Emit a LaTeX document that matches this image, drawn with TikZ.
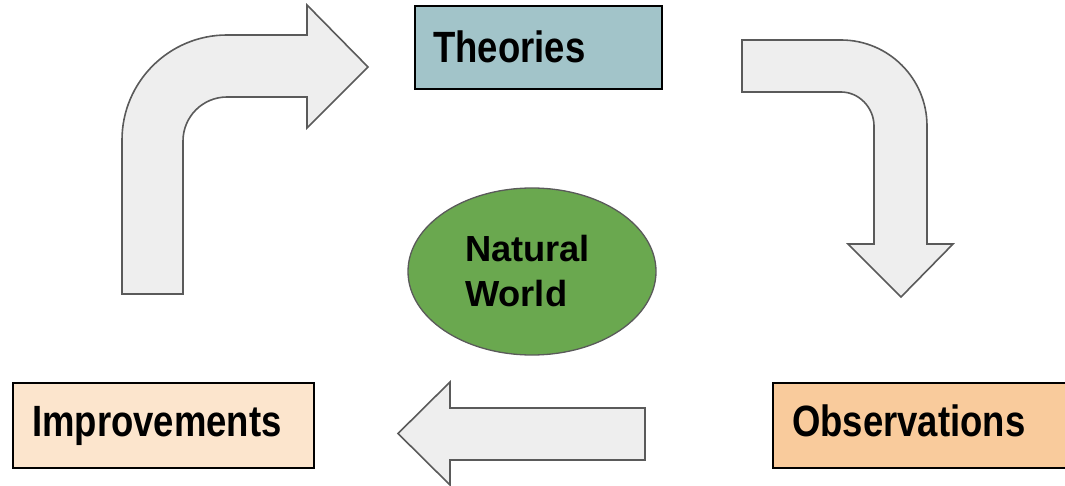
\documentclass[tikz,border=0pt]{standalone}
\usepackage{fontspec}
\setmainfont{Liberation Sans}
\usetikzlibrary{shapes.geometric,calc}
\definecolor{theoryfill}{HTML}{A2C4C9}
\definecolor{improvefill}{HTML}{FCE5CD}
\definecolor{observefill}{HTML}{F9CB9C}
\definecolor{worldfill}{HTML}{6AA84F}
\definecolor{arrowfill}{HTML}{EEEEEE}
\definecolor{arrowline}{HTML}{5A5A5A}
\tikzset{
  box/.style={draw=black, line width=1.6pt, rectangle, inner sep=0pt, anchor=north west},
  boxtext/.style={anchor=base west, inner sep=0pt, font=\bfseries\fontsize{36.5}{45}\selectfont},
  world/.style={draw=arrowline, line width=1.3pt, ellipse, fill=worldfill, inner sep=0pt,
    minimum width=248pt, minimum height=167pt, align=left, text width=134pt,
    font=\bfseries\fontsize{36.3}{45}\selectfont},
  blockarrow/.style={draw=arrowline, fill=arrowfill, line width=1.6pt, line join=miter}
}
\newcommand{\tallword}[1]{\scalebox{1}[1.2]{#1}}
\begin{document}
\begin{tikzpicture}[x=1pt, y=-1pt]
  \useasboundingbox (0,0) rectangle (1065,486);

  % the four stages of the cycle
  \node[box, fill=theoryfill, minimum width=247pt, minimum height=83pt] (theo) at (414,5) {};
  \node[boxtext] (theoT) at ($(theo.north west)+(19,58)$) {\tallword{Theories}};

  \node[box, fill=improvefill, minimum width=301pt, minimum height=85pt] (impr) at (12,382) {};
  \node[boxtext] (imprT) at ($(impr.north west)+(20,54)$) {\tallword{Improvements}};

  \node[box, fill=observefill, minimum width=310pt, minimum height=85pt] (obs) at (772,382) {};
  \node[boxtext] (obsT) at ($(obs.north west)+(20,54)$) {\tallword{Observations}};

  % the centre
  \node[world] (nat) at (532,271.5) {Natural\\World};

  % bent arrow: improvements up to theories
  \draw[blockarrow] (122,294) -- (122,140)
    .. controls (122,82) and (169,35) .. (227,35)
    -- (307,35) -- (307,5) -- (368,67) -- (307,128) -- (307,97) -- (227,97)
    .. controls (202.7,97) and (183,116.7) .. (183,141)
    -- (183,294) -- cycle;

  % bent arrow: theories down to observations
  \draw[blockarrow] (742,40) -- (841,40)
    .. controls (888.5,40) and (927,78.5) .. (927,126)
    -- (927,244) -- (953,244) -- (901,297) -- (848,244) -- (874,244) -- (874,126)
    .. controls (874,107.8) and (859.2,92) .. (841,92)
    -- (742,92) -- cycle;

  % straight arrow: observations back to improvements
  \draw[blockarrow] (645,408) -- (450,408) -- (450,382) -- (398,433.5)
    -- (450,485) -- (450,460) -- (645,460) -- cycle;
\end{tikzpicture}
\end{document}
